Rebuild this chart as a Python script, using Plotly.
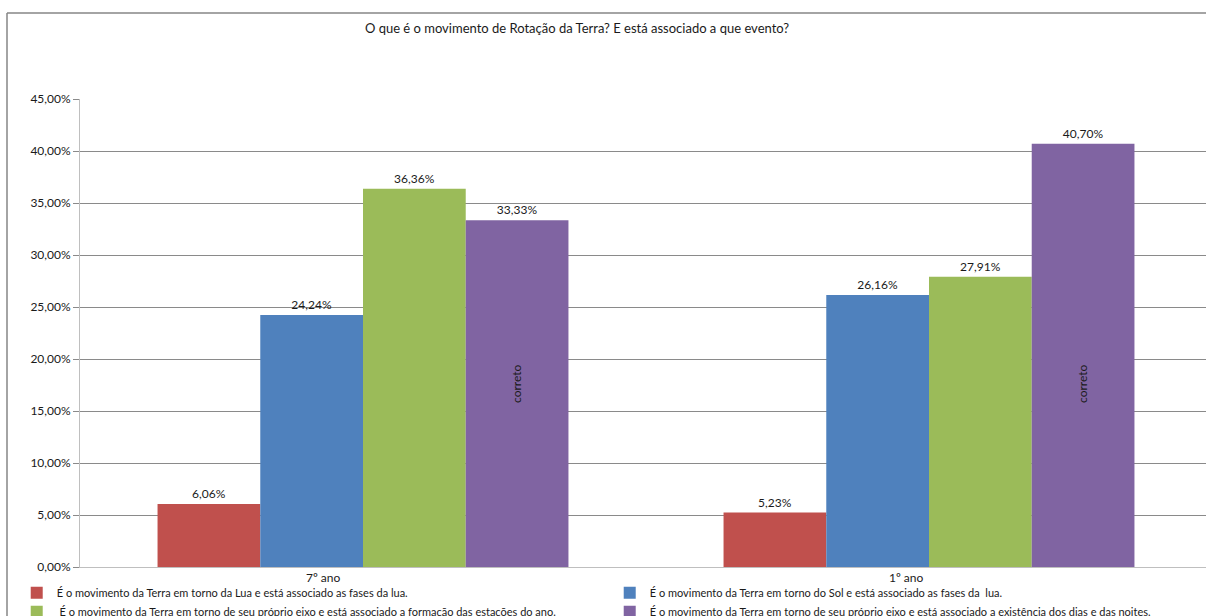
import plotly.graph_objects as go

# Survey answers per school year (percent of students)
categories = ["7º ano", "1º ano"]
series_names = [
    "É o movimento da Terra em torno da Lua e está associado as fases da lua.",
    "É o movimento da Terra em torno do Sol e está associado as fases da  lua.",
    " É o movimento da Terra em torno de seu próprio eixo e está associado a formação das estações do ano.",
    "É o movimento da Terra em torno de seu próprio eixo e está associado a existência dos dias e das noites.",
]
values_lua = [6.06, 5.23]
values_sol = [24.24, 26.16]
values_estacoes = [36.36, 27.91]
values_dias_noites = [33.33, 40.70]
series_values = [values_lua, values_sol, values_estacoes, values_dias_noites]
series_colors = ["#C0504D", "#4F81BD", "#9BBB59", "#8064A2"]

correct_label = "correto"
title_text = "O que é o movimento de Rotação da Terra? E está associado a que evento?"
y_tick_values = [0, 5, 10, 15, 20, 25, 30, 35, 40, 45]
y_tick_labels = ["0,00%", "5,00%", "10,00%", "15,00%", "20,00%",
                 "25,00%", "30,00%", "35,00%", "40,00%", "45,00%"]

FONT = "Lato, 'Open Sans', sans-serif"
TEXT_COLOR = "#1a1a1a"

fig = go.Figure()
for name, vals, color in zip(series_names, series_values, series_colors):
    fig.add_trace(go.Bar(
        x=categories,
        y=vals,
        name=name,
        marker=dict(color=color, line=dict(width=0)),
        texttemplate="%{y:.2f}%",
        textposition="outside",
        textfont=dict(family=FONT, size=12, color=TEXT_COLOR),
        cliponaxis=False,
    ))

annotations = []
# Vertical "correto" tag inside the correct-answer (last) bar of each group
for cat in categories:
    annotations.append(dict(
        x=cat, xref="x", y=17.6, yref="y", xshift=154,
        text=correct_label, showarrow=False, textangle=-90,
        font=dict(family=FONT, size=12, color=TEXT_COLOR),
    ))

# Category labels under the axis
label_shifts = [-40, -23]
for cat, shift in zip(categories, label_shifts):
    annotations.append(dict(
        x=cat, xref="x", y=0, yref="y", yanchor="top", yshift=-1,
        xshift=shift,
        text=cat, showarrow=False,
        font=dict(family=FONT, size=12, color=TEXT_COLOR),
    ))

fig.update_layout(
    width=1206, height=616,
    margin=dict(l=80, r=0, t=99, b=49, autoexpand=False),
    paper_bgcolor="white", plot_bgcolor="white",
    separators=",.",
    barmode="group", bargap=0.274, bargroupgap=0,
    showlegend=True,
    title=dict(text=title_text, x=577 / 1206, xanchor="center",
               xref="container", y=1 - 28 / 616, yanchor="middle",
               yref="container",
               font=dict(family=FONT, size=13, color=TEXT_COLOR)),
    legend=dict(orientation="h", x=-0.0562, xanchor="left", y=-0.024,
                yanchor="top", entrywidth=548, entrywidthmode="pixels",
                traceorder="normal", bgcolor="rgba(0,0,0,0)",
                font=dict(family=FONT, size=11, color=TEXT_COLOR),
                tracegroupgap=0, itemclick=False),
    annotations=annotations,
    shapes=[
        # outer chart frame (left and top edges)
        dict(type="line", xref="paper", yref="paper",
             x0=(7 - 80) / 1126, x1=(7 - 80) / 1126,
             y0=(567 - 13) / 468, y1=(567 - 620) / 468,
             line=dict(color="#868686", width=1.5)),
        dict(type="line", xref="paper", yref="paper",
             x0=(7 - 80) / 1126, x1=1.01,
             y0=(567 - 13) / 468, y1=(567 - 13) / 468,
             line=dict(color="#868686", width=1.5)),
    ],
)

fig.update_xaxes(
    type="category", range=[-0.5, 1.5 - 6 / 566],
    showticklabels=False, ticks="",
    showline=True, linecolor="#bfbfbf", linewidth=1,
    showgrid=False, zeroline=False,
)
fig.update_yaxes(
    range=[0, 45], tickvals=y_tick_values, ticktext=y_tick_labels,
    showgrid=True, gridcolor="#8a8a8a", gridwidth=1,
    showline=True, linecolor="#bfbfbf", linewidth=1,
    ticks="outside", ticklen=6, tickcolor="#8a8a8a",
    zeroline=False,
    tickfont=dict(family=FONT, size=12, color=TEXT_COLOR),
)

fig.write_html("out.html")
